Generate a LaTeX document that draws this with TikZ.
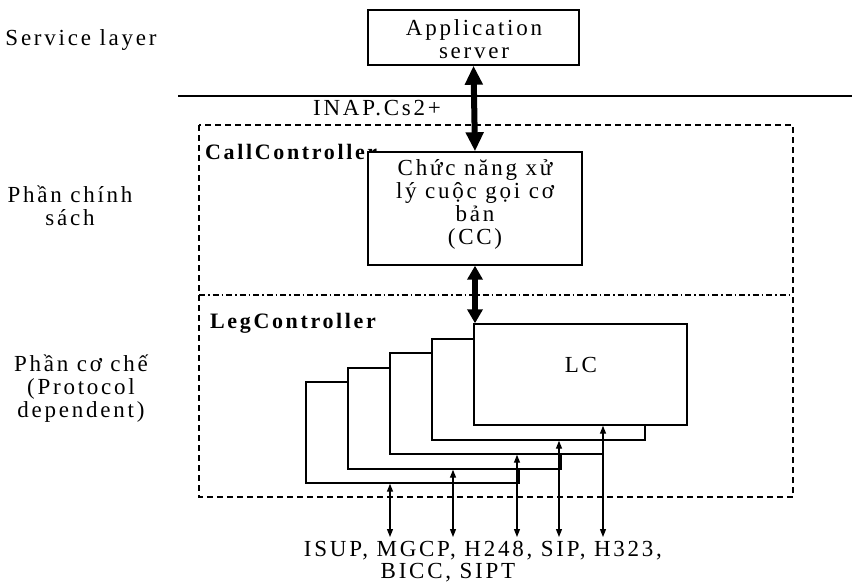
\documentclass[tikz,border=0pt]{standalone}
\usepackage{fontspec}
\setmainfont{Liberation Serif}[LetterSpace=12]
\usetikzlibrary{arrows.meta}
\tikzset{
  lbl/.style={font=\fontsize{23}{23}\selectfont, inner sep=0pt, align=center},
  blbl/.style={font=\fontsize{22}{23}\selectfont\bfseries, inner sep=0pt, anchor=west},
  boxline/.style={draw, line width=1.4pt},
  stackbox/.style={draw, fill=white, line width=1.4pt, minimum width=213pt, minimum height=101pt},
  fatarrow/.style={line width=6pt, {Triangle[width=17pt,length=19pt]}-{Triangle[width=17pt,length=19pt]}},
  midarrow/.style={line width=5.5pt, {Triangle[width=15pt,length=14pt]}-{Triangle[width=15pt,length=14pt]}},
  thinarrow/.style={line width=1.3pt, {Triangle[width=6pt,length=8pt]}-{Triangle[width=6pt,length=8pt]}},
  frame/.style={line width=1.2pt, dash pattern=on 6pt off 4pt},
  divider/.style={line width=1.1pt, dash pattern=on 6pt off 3pt on 1.5pt off 3pt},
}
\begin{document}
\begin{tikzpicture}[x=1pt, y=-1pt]
\useasboundingbox (0,0) rectangle (852,583);

% layer labels on the left
\node[lbl] (svc) at (81,40) {Service layer};
\node[lbl] (pol) at (70,206) {Phần chính\\sách};
\node[lbl] (mech) at (81,389) {Phần cơ chế\\(Protocol\\dependent)};

% service layer boundary
\coordinate (sepL) at (178,96);
\coordinate (sepR) at (852,96);
\draw[line width=1.3pt] (sepL) -- (sepR);

% application server
\node[boxline, minimum width=211pt, minimum height=55pt] (as) at (473.5,37.5) {};
\node[lbl] (astext) at (474,39) {Application\\server};

% outer frame and the divider between the two parts
\coordinate (frNW) at (199,125);
\coordinate (frSE) at (793,497);
\draw[frame] (frNW) rectangle (frSE);
\coordinate (divL) at (199,295);
\coordinate (divR) at (793,295);
\draw[divider] (divL) -- (divR);

\node[lbl, anchor=west] (inap) at (313,108) {INAP.Cs2+};
\node[blbl] (callc) at (205,152) {CallController};
\node[blbl] (legc) at (210,323) {LegController};

% basic call processing function
\node[boxline, fill=white, minimum width=214pt, minimum height=113pt] (cc) at (475,208.5) {};
\node[lbl] (cctext) at (475,204) {Chức năng xử\\lý cuộc gọi cơ\\bản\\(CC)};

% stacked leg controllers, back to front
\node[stackbox] (lc4) at (412.5,432.5) {};
\node[stackbox] (lc3) at (454.5,418.5) {};
\node[stackbox] (lc2) at (496.5,403.5) {};
\node[stackbox] (lc1) at (538.5,389.5) {};
\node[stackbox] (lc)  at (580.5,374.5) {};
\node[lbl] (lctext) at (581,365) {LC};

% interfaces between the layers
\draw[fatarrow] (as.south) -- (cc.north);
\draw[midarrow] (cc.south) -- (lc.north west -| cc.south);

% protocol interfaces
\coordinate (p4) at (390,537);
\coordinate (p3) at (453,537);
\coordinate (p2) at (517,537);
\coordinate (p1) at (559,537);
\coordinate (p0) at (603,537);
\draw[thinarrow] (p4) -- (p4 |- lc4.south);
\draw[thinarrow] (p3) -- (p3 |- lc3.south);
\draw[thinarrow] (p2) -- (p2 |- lc2.south);
\draw[thinarrow] (p1) -- (p1 |- lc1.south);
\draw[thinarrow] (p0) -- (p0 |- lc.south);

\node[lbl] (proto1) at (483,551) {ISUP, MGCP, H248, SIP, H323,};
\node[lbl] (proto2) at (448,573) {BICC, SIPT};
\end{tikzpicture}
\end{document}
